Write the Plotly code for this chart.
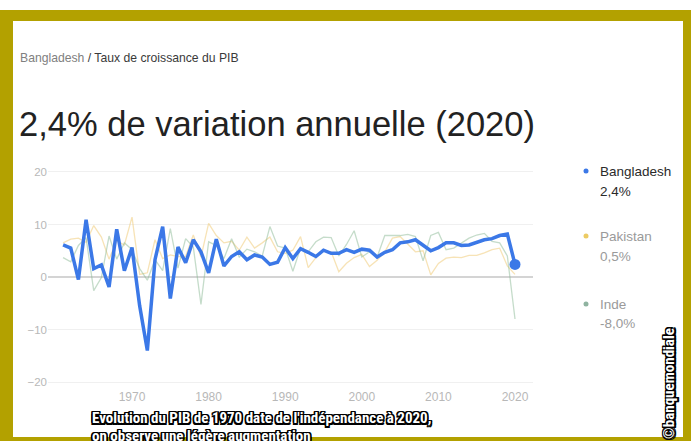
import plotly.graph_objects as go

# ---------------- data ----------------
years = list(range(1961, 2021))
bangladesh = [6.1, 5.5, -0.5, 10.9, 1.6, 2.3, -1.9, 9.1, 1.2, 5.6,
              -5.5, -14.0, 3.3, 9.6, -4.1, 5.7, 2.7, 7.1, 4.8, 0.8,
              7.2, 2.1, 3.9, 4.8, 3.3, 4.2, 3.8, 2.4, 2.8, 5.6,
              3.5, 5.4, 4.7, 3.9, 5.1, 4.5, 4.5, 5.2, 4.7, 5.3,
              5.1, 3.8, 4.7, 5.2, 6.5, 6.7, 7.1, 6.0, 5.0, 5.6,
              6.5, 6.5, 6.0, 6.1, 6.6, 7.1, 7.3, 7.9, 8.2, 2.4]
pakistan = [6.5, 7.2, 7.4, 6.6, 9.8, 7.6, 3.4, 6.9, 6.1, 11.4,
            0.5, 0.8, 7.1, 3.5, 4.2, 3.9, 3.9, 8.0, 3.8, 10.2,
            7.9, 6.5, 6.8, 5.1, 7.6, 5.5, 6.5, 7.6, 4.8, 4.5,
            5.1, 7.7, 1.8, 3.7, 5.0, 4.8, 1.0, 2.6, 3.7, 4.3,
            2.0, 3.2, 4.8, 7.4, 7.7, 6.2, 4.8, 5.0, 0.4, 2.6,
            3.6, 3.8, 3.7, 4.1, 4.1, 4.6, 5.2, 5.5, 2.1, 0.5]
inde = [3.7, 2.9, 6.0, 7.5, -2.6, -0.1, 7.8, 3.4, 6.5, 5.2,
        1.6, -0.6, 3.3, 1.2, 9.2, 1.7, 7.3, 5.7, -5.2, 6.7,
        6.0, 3.5, 7.3, 3.8, 5.3, 4.8, 4.0, 9.6, 5.9, 5.5,
        1.1, 5.5, 4.8, 6.7, 7.6, 7.5, 4.0, 6.2, 8.8, 3.8,
        4.8, 3.8, 7.9, 7.9, 7.9, 8.1, 7.7, 3.1, 7.9, 8.5,
        5.2, 5.5, 6.4, 7.4, 8.0, 8.3, 6.8, 6.5, 4.0, -8.0]
series_names = ["Bangladesh", "Pakistan", "Inde"]
x_ticks = [1970, 1980, 1990, 2000, 2010, 2020]
y_ticks = [-20, -10, 0, 10, 20]

breadcrumb_country = "Bangladesh"
breadcrumb_rest = " / Taux de croissance du PIB"
headline = "2,4% de variation annuelle (2020)"
caption_lines = ["Evolution du PIB de 1970 date de l'indépendance à 2020,",
                 "on observe une légère augmentation"]
credit = "©banquemondiale"

# ---------------- layout helpers ----------------
W, H = 691, 441
L, R, T, B = 48, 158, 169, 56
PW, PH = W - L - R, H - T - B


def px(x):
    return (x - L) / PW


def py(y):
    return (H - B - y) / PH


def fmt(v):
    return f"{v:.1f}".replace(".", ",") + "%"


BLUE = "#3b78e7"
PAK_LINE = "rgba(240,200,110,0.5)"
IND_LINE = "rgba(140,185,150,0.5)"
PAK_DOT = "#eccb63"
IND_DOT = "#8fb3a0"
GOLD = "#b3a100"
FONT = "Liberation Sans, Arial, sans-serif"
NARROW = "Liberation Sans Narrow, Roboto Condensed, Liberation Sans, sans-serif"

fig = go.Figure()
fig.add_trace(go.Scatter(x=years, y=pakistan, mode="lines",
                         line=dict(color=PAK_LINE, width=1.3), name="Pakistan"))
fig.add_trace(go.Scatter(x=years, y=inde, mode="lines",
                         line=dict(color=IND_LINE, width=1.3), name="Inde"))
fig.add_trace(go.Scatter(x=years, y=bangladesh, mode="lines",
                         line=dict(color=BLUE, width=3.5), name="Bangladesh"))
fig.add_trace(go.Scatter(x=[years[-1]], y=[bangladesh[-1]], mode="markers",
                         marker=dict(color=BLUE, size=11), name="Bangladesh 2020"))

shapes = []
annotations = []

# gold frame
for x0, y0, x1, y1 in [(0, 10, W, 21), (0, 10, 13, H), (683, 10, W, H), (0, 437, W, H)]:
    shapes.append(dict(type="rect", xref="paper", yref="paper",
                       x0=px(x0), x1=px(x1), y0=py(y1), y1=py(y0),
                       fillcolor=GOLD, line=dict(width=0), layer="above"))

# breadcrumb and headline
annotations.append(dict(xref="paper", yref="paper", x=px(18), y=py(58),
                        xanchor="left", yanchor="middle", showarrow=False,
                        text=f"<span style='color:#808080'>{breadcrumb_country}</span>"
                             f"<span style='color:#3a3a3a'>{breadcrumb_rest}</span>",
                        font=dict(family=FONT, size=12.2)))
annotations.append(dict(xref="paper", yref="paper", x=px(17), y=py(124),
                        xanchor="left", yanchor="middle", showarrow=False,
                        text=headline, font=dict(family=FONT, size=34.5, color="#222222")))

# custom legend
legend_rows = [(series_names[0], bangladesh[-1], BLUE, "#2a2a2a", 171, 191),
               (series_names[1], pakistan[-1], PAK_DOT, "#9a9a9a", 236, 256),
               (series_names[2], inde[-1], IND_DOT, "#9a9a9a", 304, 323)]
for name, val, dot, tcol, yname, yval in legend_rows:
    shapes.append(dict(type="circle", xref="paper", yref="paper",
                       x0=px(583.5), x1=px(588.5), y0=py(yname + 2.5), y1=py(yname - 2.5),
                       fillcolor=dot, line=dict(width=0)))
    annotations.append(dict(xref="paper", yref="paper", x=px(598), y=py(yname),
                            xanchor="left", yanchor="middle", showarrow=False,
                            text=name, font=dict(family=FONT, size=13.5, color=tcol)))
    annotations.append(dict(xref="paper", yref="paper", x=px(598), y=py(yval),
                            xanchor="left", yanchor="middle", showarrow=False,
                            text=fmt(val), font=dict(family=FONT, size=13.5, color=tcol)))

outline = ("-1.5px -1.5px 0 #000, 1.5px -1.5px 0 #000, -1.5px 1.5px 0 #000, "
           "1.5px 1.5px 0 #000, 0 1.5px 0 #000, 0 -1.5px 0 #000, 1.5px 0 0 #000, -1.5px 0 0 #000")

# caption
for i, line in enumerate(caption_lines):
    annotations.append(dict(xref="paper", yref="paper", x=px(90), y=py(418 + 18 * i),
                            xanchor="left", yanchor="middle", showarrow=False,
                            text=line,
                            font=dict(family=NARROW, size=15, color="white",
                                      weight="bold", shadow=outline)))

# credit
annotations.append(dict(xref="paper", yref="paper", x=px(669), y=py(384),
                        xanchor="center", yanchor="middle", showarrow=False,
                        textangle=-90, text=credit,
                        font=dict(family=NARROW, size=15, color="white",
                                  weight="bold", shadow=outline)))

fig.update_layout(
    width=W, height=H,
    margin=dict(l=L, r=R, t=T, b=B, pad=0),
    paper_bgcolor="white", plot_bgcolor="white",
    showlegend=False,
    shapes=shapes, annotations=annotations,
    xaxis=dict(range=[1959.03, 2022.35], tickvals=x_ticks, showgrid=False,
               zeroline=False, showline=False, ticks="", ticklabelstandoff=3,
               tickfont=dict(family=FONT, size=12, color="#b8b8b8")),
    yaxis=dict(range=[-20.57, 20.57], tickvals=y_ticks, showgrid=True,
               gridcolor="#f0f0f0", gridwidth=1, zeroline=True,
               zerolinecolor="#d4d4d4", zerolinewidth=2, ticks="",
               tickfont=dict(family=FONT, size=11.5, color="#b8b8b8")),
)

fig.write_html("out.html",
               config={"displayModeBar": False},
               post_script="document.body.style.margin='0px';"
                           "document.body.style.overflow='hidden';")
